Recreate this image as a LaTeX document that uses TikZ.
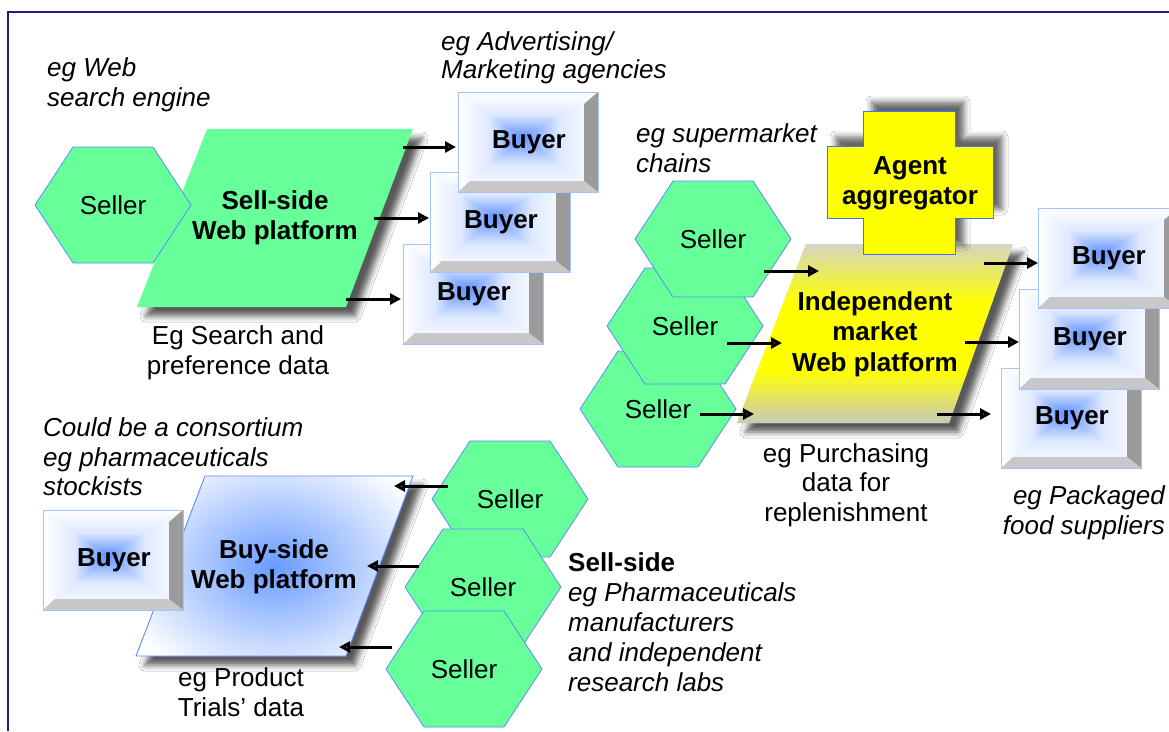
\documentclass[tikz,border=0pt]{standalone}
\usepackage{fontspec}
\setmainfont{Liberation Sans}
\usetikzlibrary{arrows.meta,shadows.blur}

\definecolor{hexgreen}{RGB}{102,255,153}
\definecolor{hexline}{RGB}{90,140,255}
\definecolor{bcore}{RGB}{95,145,255}
\definecolor{bmid}{RGB}{222,233,255}
\definecolor{bscore}{RGB}{105,155,255}
\definecolor{bevR}{RGB}{155,155,155}
\definecolor{bevB}{RGB}{200,200,200}
\definecolor{boxline}{RGB}{165,195,255}
\definecolor{aggyellow}{RGB}{255,255,0}
\definecolor{crossline}{RGB}{70,110,255}
\definecolor{itop}{RGB}{212,212,200}
\definecolor{ibot}{RGB}{200,200,192}
\definecolor{framecol}{RGB}{28,28,145}

% Bevelled "Buyer" box: name, left x, top y
\newcommand\BuyerBox[3]{%
  \begin{scope}[shift={(#2,#3)}]
    \shade[top color=white, bottom color=bcore, middle color=bmid] (0,0) -- (140,0) -- (63,45) -- cycle;
    \shade[top color=bcore, bottom color=white, middle color=bmid] (0,100) -- (140,100) -- (63,45) -- cycle;
    \shade[left color=white, right color=bcore, middle color=bmid] (0,0) -- (0,100) -- (63,45) -- cycle;
    \shade[left color=bcore, right color=white, middle color=bmid] (140,0) -- (140,100) -- (63,45) -- cycle;
    \fill[bevR] (140,0) -- (140,100) -- (126,89) -- (126,12) -- cycle;
    \fill[bevB] (0,100) -- (140,100) -- (126,89) -- (12,89) -- cycle;
    \draw[boxline, line width=0.9pt] (0,0) rectangle (140,100);
    \node[bld] (#1) at (71,50) {Buyer};
  \end{scope}}

% Hexagonal "Seller" shape: name, centre x, centre y
\newcommand\SellerHex[3]{%
  \begin{scope}[shift={(#2,#3)}]
    \filldraw[fill=hexgreen, draw=hexline, line width=0.8pt]
      (-78,0) -- (-40,-58) -- (40,-58) -- (78,0) -- (40,58) -- (-40,58) -- cycle;
    \node[reg] (#1) at (0,0) {Seller};
  \end{scope}}

\begin{document}
\begin{tikzpicture}[x=1pt,y=-1pt,
  reg/.style={font=\fontsize{26}{29.5}\selectfont, inner sep=0pt, align=center},
  itl/.style={font=\fontsize{26}{29.5}\selectfont\itshape, inner sep=0pt, align=left},
  bld/.style={font=\fontsize{26}{30}\selectfont\bfseries, inner sep=0pt, align=center},
  flowarrow/.style={line width=3pt, -{Triangle[length=11pt,width=11pt]}},
  platshadow/.style={blur shadow={shadow xshift=9pt, shadow yshift=-9pt, shadow blur radius=6pt, shadow opacity=65}},
  crossshadow/.style={blur shadow={shadow xshift=9pt, shadow yshift=9pt, shadow blur radius=6pt, shadow opacity=60}}
]
\useasboundingbox (0,0) rectangle (1169,731);
\fill[white] (0,0) rectangle (1169,731);

% frame
\draw[framecol, line width=2.6pt] (8,731) -- (8,12) -- (1169,12);

% ---------- sell-side platform (top left) ----------
\fill[hexgreen, platshadow] (207,129) -- (413,129) -- (346,307) -- (137,307) -- cycle;
\node[bld] (sellweb) at (275,218) {Sell-side\\Web platform};
\SellerHex{sellA}{113}{205}

\BuyerBox{buyA3}{403}{244}
\BuyerBox{buyA2}{430}{172}
\BuyerBox{buyA1}{458}{92}

\coordinate (ssout1) at (403,147);
\coordinate (ssout2) at (374,218);
\coordinate (ssout3) at (346,299);
\coordinate (buyA1in) at (456,147);
\coordinate (buyA2in) at (429,218);
\coordinate (buyA3in) at (401,299);
\draw[flowarrow] (ssout1) -- (buyA1in);
\draw[flowarrow] (ssout2) -- (buyA2in);
\draw[flowarrow] (ssout3) -- (buyA3in);

\node[itl, anchor=west] (lblweb) at (47,85) {eg Web\\search engine};
\node[itl, anchor=west, font=\fontsize{26}{27.5}\selectfont\itshape] (lbladv) at (441,58) {eg Advertising/\\Marketing agencies};
\node[reg] (lblsearch) at (238,353) {Eg Search and\\preference data};

% ---------- independent market platform (right) ----------
\fill[itop, platshadow] (806,244) -- (1013,244) -- (949,423) -- (737,423) -- cycle;
\begin{scope}
  \clip (806,244) -- (1013,244) -- (949,423) -- (737,423) -- cycle;
  \shade[top color=itop, bottom color=aggyellow] (700,243) rectangle (1020,302);
  \fill[aggyellow] (700,301) rectangle (1020,371);
  \shade[top color=aggyellow, bottom color=ibot] (700,370) rectangle (1020,424);
\end{scope}
\node[bld, font=\fontsize{26}{30.5}\selectfont\bfseries] (indep) at (875,334) {Independent\\market\\Web platform};

\filldraw[fill=aggyellow, draw=crossline, line width=1pt, crossshadow]
  (863,111) -- (955,111) -- (955,146) -- (993,146) -- (993,218) -- (955,218) --
  (955,254) -- (863,254) -- (863,218) -- (827,218) -- (827,146) -- (863,146) -- cycle;
\node[bld] (agent) at (910,183) {Agent\\aggregator};

\SellerHex{sellB3}{658}{409}
\SellerHex{sellB2}{685}{326}
\SellerHex{sellB1}{713}{239}

\BuyerBox{buyB3}{1001}{368}
\BuyerBox{buyB2}{1019}{289}
\BuyerBox{buyB1}{1038}{208}

\coordinate (sellB1out) at (764,271);
\coordinate (sellB2out) at (727,343);
\coordinate (sellB3out) at (700,414);
\coordinate (indin1) at (819,271);
\coordinate (indin2) at (782,343);
\coordinate (indin3) at (754,414);
\draw[flowarrow] (sellB1out) -- (indin1);
\draw[flowarrow] (sellB2out) -- (indin2);
\draw[flowarrow] (sellB3out) -- (indin3);

\coordinate (indout1) at (984,263);
\coordinate (indout2) at (965,342);
\coordinate (indout3) at (937,414);
\coordinate (buyB1in) at (1038,263);
\coordinate (buyB2in) at (1019,342);
\coordinate (buyB3in) at (991,414);
\draw[flowarrow] (indout1) -- (buyB1in);
\draw[flowarrow] (indout2) -- (buyB2in);
\draw[flowarrow] (indout3) -- (buyB3in);

\node[itl, anchor=west] (lblsuper) at (636,148) {eg supermarket\\chains};
\node[reg] (lblpurch) at (846,485) {eg Purchasing\\data for\\replenishment};
\node[itl, anchor=east, align=right] (lblfood) at (1165,513) {eg Packaged\\food suppliers};

% ---------- buy-side platform (bottom left) ----------
\fill[white, platshadow] (205,476) -- (413,476) -- (346,656) -- (136,656) -- cycle;
\begin{scope}
  \clip (205,476) -- (413,476) -- (346,656) -- (136,656) -- cycle;
  \shade[inner color=bscore, outer color=white] (275,566) ellipse (165 and 125);
\end{scope}
\draw[hexline, line width=0.9pt] (205,476) -- (413,476) -- (346,656) -- (136,656) -- cycle;
\node[bld] (buyweb) at (274,567) {Buy-side\\Web platform};

\BuyerBox{buyC}{43}{510}

\SellerHex{sellC1}{510}{499}
\SellerHex{sellC2}{483}{587}
\SellerHex{sellC3}{464}{669}

\coordinate (sellC1out) at (448,486);
\coordinate (sellC2out) at (419,566);
\coordinate (sellC3out) at (392,647);
\coordinate (bsin1) at (394,486);
\coordinate (bsin2) at (367,566);
\coordinate (bsin3) at (339,647);
\draw[flowarrow] (sellC1out) -- (bsin1);
\draw[flowarrow] (sellC2out) -- (bsin2);
\draw[flowarrow] (sellC3out) -- (bsin3);

\node[itl, anchor=west] (lblcons) at (43,457) {Could be a consortium\\eg pharmaceuticals\\stockists};
\node[reg] (lbltrials) at (241,692) {eg Product\\Trials’ data};
\node[reg, anchor=west, align=left, font=\fontsize{26}{30}\selectfont] (lblsellside) at (568,622)
  {\textbf{Sell-side}\\\textit{eg Pharmaceuticals}\\\textit{manufacturers}\\\textit{and independent}\\\textit{research labs}};
\end{tikzpicture}
\end{document}
